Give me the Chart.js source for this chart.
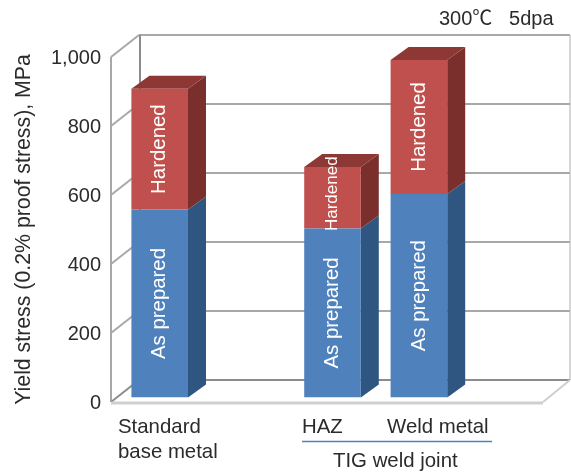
<!DOCTYPE html>
<html>
<head>
<meta charset="utf-8">
<style>
  html, body { margin: 0; padding: 0; background: #fff; }
  canvas { display: block; }
</style>
<script src="https://cdn.jsdelivr.net/npm/chart.js@4/dist/chart.umd.min.js"></script>
</head>
<body>
<canvas id="chartYield" width="571" height="473"></canvas>
<script>
// Dados (MPa); slots vazios mantem o espacamento do eixo
var categorias = ["Standard base metal", "", "HAZ", "Weld metal", ""];
var asPrepared = [545, null, 490, 590, null];
var hardened = [350, null, 178, 388, null];
var ticksY = [0, 200, 400, 600, 800, 1000];

var fonte = '"Liberation Sans", "Noto Sans CJK JP", sans-serif';
var corTexto = "#2b2b2b";
var corGrade = "#a8a8a8";

// Deslocamentos do efeito 3D
var paredeX = 28, paredeY = -22;
var barraX = 5.5, barraY = -4.5;
var fundoX = 18, fundoY = -13;

var coresLado = ["#2f5581", "#7b2f2c"];
var corTopo = "#8e3835";

function linha(ctx, x1, y1, x2, y2, cor, largura) {
  ctx.strokeStyle = cor;
  ctx.lineWidth = largura;
  ctx.beginPath();
  ctx.moveTo(x1, y1);
  ctx.lineTo(x2, y2);
  ctx.stroke();
}

function face(ctx, pontos, cor) {
  ctx.fillStyle = cor;
  ctx.beginPath();
  ctx.moveTo(pontos[0][0], pontos[0][1]);
  for (var i = 1; i < pontos.length; i++) {
    ctx.lineTo(pontos[i][0], pontos[i][1]);
  }
  ctx.closePath();
  ctx.fill();
}

function texto(ctx, t, x, y) {
  ctx.fillText(t, x, y);
}

var grafico3d = {
  id: "grafico3d",
  beforeDatasetsDraw: function (chart) {
    var ctx = chart.ctx;
    var area = chart.chartArea;
    var y = chart.scales.y;
    ctx.save();

    // Paredes e grade
    ticksY.forEach(function (valor) {
      var py = y.getPixelForValue(valor);
      if (valor > 0) {
        linha(ctx, area.left, py, area.left + paredeX, py + paredeY, corGrade, 2);
        linha(ctx, area.left + paredeX, py + paredeY, area.right + paredeX - 1, py + paredeY, corGrade, 2);
      }
    });
    linha(ctx, area.left, area.top, area.left, area.bottom, corGrade, 2);
    linha(ctx, area.left + paredeX + 1, area.top + paredeY, area.left + paredeX + 1, area.bottom + paredeY, "#8c8c8c", 2);
    linha(ctx, area.right + paredeX - 1, area.top + paredeY, area.right + paredeX - 1, area.bottom + paredeY, "#b0b0b0", 1);

    // Piso
    linha(ctx, area.left, area.bottom, area.left + paredeX, area.bottom + paredeY, "#8c8c8c", 2);
    linha(ctx, area.left + paredeX, area.bottom + paredeY, area.right + paredeX - 1, area.bottom + paredeY, "#8c8c8c", 2);
    linha(ctx, area.left, area.bottom + 1, area.right, area.bottom + 1, "#cfcfcf", 3);
    linha(ctx, area.right, area.bottom, area.right + paredeX - 1, area.bottom + paredeY, "#cfcfcf", 2);

    // Lados e topo das barras
    chart.data.datasets.forEach(function (ds, d) {
      var meta = chart.getDatasetMeta(d);
      meta.data.forEach(function (barra, i) {
        if (ds.data[i] === null) return;
        var dir = barra.x + barra.width / 2 + barraX;
        var esq = barra.x - barra.width / 2 + barraX;
        var topo = barra.y + barraY;
        var base = barra.base + barraY;
        face(ctx, [[dir, topo], [dir + fundoX, topo + fundoY], [dir + fundoX, base + fundoY], [dir, base]], coresLado[d]);
        if (d == chart.data.datasets.length - 1) {
          face(ctx, [[esq, topo], [esq + fundoX, topo + fundoY], [dir + fundoX, topo + fundoY], [dir, topo]], corTopo);
        }
      });
    });
    ctx.restore();
  },
  beforeDatasetDraw: function (chart) {
    chart.ctx.save();
    chart.ctx.translate(barraX, barraY);
  },
  afterDatasetDraw: function (chart) {
    chart.ctx.restore();
  },
  afterDatasetsDraw: function (chart) {
    var ctx = chart.ctx;
    ctx.save();

    // Rotulos verticais dentro das barras
    chart.data.datasets.forEach(function (ds, d) {
      var meta = chart.getDatasetMeta(d);
      meta.data.forEach(function (barra, i) {
        if (ds.data[i] === null) return;
        var altura = barra.base - barra.y;
        var pequeno = altura < 80;
        ctx.save();
        ctx.translate(barra.x + barraX, (barra.y + barra.base) / 2 + barraY - (pequeno ? 4 : 0));
        ctx.rotate(-Math.PI / 2);
        ctx.fillStyle = "#fff";
        ctx.font = (pequeno ? "17px " : "20.4px ") + fonte;
        ctx.textAlign = "center";
        ctx.textBaseline = "middle";
        ctx.fillText(ds.label, 0, 0);
        ctx.restore();
      });
    });

    // Textos do eixo x e anotacoes
    ctx.fillStyle = corTexto;
    ctx.font = "20.4px " + fonte;
    ctx.textAlign = "left";
    ctx.textBaseline = "alphabetic";
    texto(ctx, "Standard", 118, 433);
    texto(ctx, "base metal", 118, 458);
    texto(ctx, categorias[2], 302, 433);
    texto(ctx, categorias[3], 387, 433);
    texto(ctx, "TIG weld joint", 333, 467);
    ctx.font = "20px " + fonte;
    texto(ctx, "300℃   5dpa", 439, 25);
    linha(ctx, 302, 441.5, 492, 441.5, "#4f81bd", 1.5);
    ctx.restore();
  },
};

new Chart(document.getElementById("chartYield"), {
  type: "bar",
  data: {
    labels: categorias,
    datasets: [
      {
        label: "As prepared",
        data: asPrepared,
        backgroundColor: "#4f81bd",
        categoryPercentage: 0.655,
        barPercentage: 1,
      },
      {
        label: "Hardened",
        data: hardened,
        backgroundColor: "#c0504d",
        categoryPercentage: 0.655,
        barPercentage: 1,
      },
    ],
  },
  plugins: [grafico3d],
  options: {
    responsive: false,
    animation: false,
    layout: {
      padding: { left: 0, top: 57, right: 28, bottom: 71 },
    },
    plugins: {
      legend: { display: false },
      tooltip: { enabled: false },
    },
    scales: {
      x: {
        stacked: true,
        grid: { display: false, drawTicks: false },
        border: { display: false },
        ticks: { display: false },
        afterFit: function (escala) {
          escala.height = 0;
        },
      },
      y: {
        stacked: true,
        min: 0,
        max: 1000,
        afterFit: function (escala) {
          escala.width = 111;
        },
        afterBuildTicks: function (escala) {
          escala.ticks = ticksY.map(function (v) {
            return { value: v };
          });
        },
        grid: { display: false, drawTicks: false },
        border: { display: false },
        title: {
          display: true,
          text: "Yield stress (0.2% proof stress), MPa",
          color: corTexto,
          font: { family: fonte, size: 21.3 },
          padding: { top: 11, bottom: 0 },
        },
        ticks: {
          color: corTexto,
          font: { family: fonte, size: 20 },
          padding: 10,
          labelOffset: 1,
          callback: function (v) {
            return v.toLocaleString("en-US");
          },
        },
      },
    },
  },
});
</script>
</body>
</html>
